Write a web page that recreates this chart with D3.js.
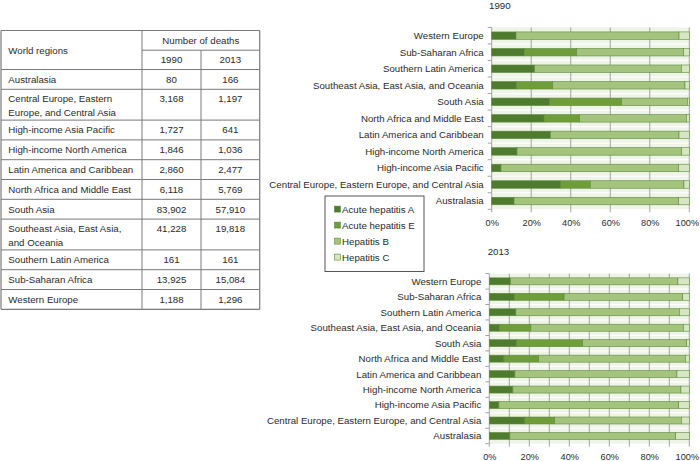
<!DOCTYPE html>
<html>
<head>
<meta charset="utf-8">
<script src="https://cdn.jsdelivr.net/npm/d3@7"></script>
<style>
html,body{margin:0;padding:0;background:#fff;}
svg{display:block;font-family:"Liberation Sans",Arial,Helvetica,sans-serif;}
</style>
</head>
<body>
<svg id="chart" width="700" height="461"></svg>
<script>
// ---------- Table data ----------
const tableRegions = [
  ["Australasia"],
  ["Central Europe, Eastern", "Europe, and Central Asia"],
  ["High-income Asia Pacific"],
  ["High-income North America"],
  ["Latin America and Caribbean"],
  ["North Africa and Middle East"],
  ["South Asia"],
  ["Southeast Asia, East Asia,", "and Oceania"],
  ["Southern Latin America"],
  ["Sub-Saharan Africa"],
  ["Western Europe"]
];
const deaths1990 = ["80","3,168","1,727","1,846","2,860","6,118","83,902","41,228","161","13,925","1,188"];
const deaths2013 = ["166","1,197","641","1,036","2,477","5,769","57,910","19,818","161","15,084","1,296"];

// ---------- Chart data (percent of deaths) ----------
const regions = [
  "Western Europe",
  "Sub-Saharan Africa",
  "Southern Latin America",
  "Southeast Asia, East Asia, and Oceania",
  "South Asia",
  "North Africa and Middle East",
  "Latin America and Caribbean",
  "High-income North America",
  "High-income Asia Pacific",
  "Central Europe, Eastern Europe, and Central Asia",
  "Australasia"
];
const seriesNames = ["Acute hepatitis A", "Acute hepatitis E", "Hepatitis B", "Hepatitis C"];
const hepA1990 = [12.3, 16.5, 21.7, 12.6, 29.3, 26.5, 29.7, 12.8, 4.7, 34.9, 11.3];
const hepE1990 = [0, 26.5, 0, 18.3, 36.5, 18.0, 0, 0, 0, 15.0, 0];
const hepB1990 = [82.5, 54.1, 74.3, 66.9, 33.2, 54.0, 65.1, 83.3, 89.9, 47.4, 83.3];
const hepC1990 = [5.2, 2.9, 4.0, 2.2, 1.0, 1.5, 5.2, 3.9, 5.4, 2.7, 5.4];
const hepA2013 = [10.6, 12.6, 13.3, 5.0, 13.5, 7.3, 12.8, 11.8, 4.8, 17.8, 10.3];
const hepE2013 = [0, 24.8, 0, 15.8, 33.2, 17.4, 0, 0, 0, 14.9, 0];
const hepB2013 = [83.7, 59.3, 81.7, 76.2, 52.0, 73.3, 81.0, 84.0, 89.9, 63.3, 82.9];
const hepC2013 = [5.7, 3.3, 5.0, 3.0, 1.3, 2.0, 6.2, 4.2, 5.3, 4.0, 6.8];
const xTicks = [0, 20, 40, 60, 80, 100];

const colors = ["#4f7b2e", "#6f9d3a", "#a4c47d", "#d6e5c4"];
const strokeCol = "#5e8a3c";
const textCol = "#2a2a2a";
const FS = 9.7;

const svg = d3.select("#chart");

// ---------- Table ----------
(function drawTable(){
  const g = svg.append("g");
  const x0 = 1, x1 = 142, x2 = 201, x3 = 259.7;
  const top = 30.5, mid = 50.2, hdrBottom = 69.5;
  const single = 19.8, dbl = 30.8;
  const rowTops = [];
  let y = hdrBottom;
  tableRegions.forEach(r => { rowTops.push(y); y += (r.length > 1 ? dbl : single); });
  const bottom = y;
  const lc = "#7a7a7a";
  const line = (xa, ya, xb, yb, w) => g.append("line").attr("x1", xa).attr("y1", ya).attr("x2", xb).attr("y2", yb)
    .attr("stroke", lc).attr("stroke-width", w || 1);
  line(x0, top, x3, top, 1.2);
  line(x1, mid, x3, mid);
  line(x0, hdrBottom, x3, hdrBottom);
  rowTops.slice(1).forEach(t => line(x0, t, x3, t));
  line(x0, bottom, x3, bottom, 1.2);
  line(x0, top, x0, bottom, 1.2);
  line(x1, top, x1, bottom);
  line(x2, mid, x2, bottom);
  line(x3, top, x3, bottom, 1.2);

  const txt = (s, x, yy, anchor) => g.append("text").attr("x", x).attr("y", yy)
    .attr("dy", "0.35em").attr("text-anchor", anchor || "start")
    .attr("font-size", FS).attr("fill", textCol).text(s);
  txt("World regions", 8.3, (top + hdrBottom) / 2 + 1);
  txt("Number of deaths", (x1 + x3) / 2, (top + mid) / 2, "middle");
  txt("1990", (x1 + x2) / 2, (mid + hdrBottom) / 2, "middle");
  txt("2013", (x2 + x3) / 2, (mid + hdrBottom) / 2, "middle");
  tableRegions.forEach((r, i) => {
    const t = rowTops[i];
    if (r.length > 1) {
      txt(r[0], 8.3, t + 9.8);
      txt(r[1], 8.3, t + 23.2);
      txt(deaths1990[i], (x1 + x2) / 2, t + 9.8, "middle");
      txt(deaths2013[i], (x2 + x3) / 2, t + 9.8, "middle");
    } else {
      txt(r[0], 8.3, t + single / 2);
      txt(deaths1990[i], (x1 + x2) / 2, t + single / 2, "middle");
      txt(deaths2013[i], (x2 + x3) / 2, t + single / 2, "middle");
    }
  });
})();

// ---------- Bar charts ----------
function drawChart(opts) {
  const { title, titleX, titleY, left, right, top, bottom, barH, gridStep, labelY, vals } = opts;
  const g = svg.append("g");
  const x = d3.scaleLinear().domain([0, 100]).range([left, right]);
  const y = d3.scaleBand().domain(regions).range([top, bottom]);

  g.append("text").attr("x", titleX).attr("y", titleY).attr("dy", "0.35em")
    .attr("font-size", FS).attr("fill", textCol).text(title);

  g.append("rect").attr("x", left).attr("y", top).attr("width", right - left).attr("height", bottom - top)
    .attr("fill", "#eff4e8");
  const bounds = regions.map(r => y(r)).concat([bottom]);
  g.selectAll(".hsep").data(bounds.slice(1, -1)).join("line")
    .attr("x1", left).attr("x2", right).attr("y1", d => d).attr("y2", d => d)
    .attr("stroke", "#ffffff").attr("stroke-width", 1.2);
  const grid = d3.range(0, 100 + 0.001, gridStep);
  g.selectAll(".vgrid").data(grid).join("line")
    .attr("x1", d => x(d)).attr("x2", d => x(d)).attr("y1", top).attr("y2", bottom + 3)
    .attr("stroke", "#a3a3a3").attr("stroke-width", 1);
  g.selectAll(".ltick").data(bounds).join("line")
    .attr("x1", left - 4).attr("x2", left).attr("y1", d => d).attr("y2", d => d)
    .attr("stroke", "#a3a3a3").attr("stroke-width", 1);

  const rows = regions.map((r, i) => ({ region: r, v: vals.map(s => s[i]) }));
  rows.forEach(row => {
    let acc = 0;
    row.v.forEach((v, k) => {
      if (v > 0) {
        g.append("rect")
          .attr("x", x(acc)).attr("width", x(acc + v) - x(acc))
          .attr("y", y(row.region) + (y.bandwidth() - barH) / 2).attr("height", barH)
          .attr("fill", colors[k]).attr("stroke", strokeCol).attr("stroke-width", 0.6);
      }
      acc += v;
    });
  });

  g.selectAll(".ylab").data(regions).join("text")
    .attr("x", left - 8).attr("y", d => y(d) + y.bandwidth() / 2).attr("dy", "0.35em")
    .attr("text-anchor", "end").attr("font-size", FS).attr("fill", textCol).text(d => d);

  const xAxis = d3.axisBottom(x).tickValues(xTicks).tickFormat(d => d + "%").tickSize(0).tickPadding(0);
  const ax = g.append("g").attr("transform", `translate(0,${labelY})`).call(xAxis);
  ax.select(".domain").remove();
  ax.selectAll("text").attr("font-size", 9.2).attr("fill", textCol)
    .attr("font-family", '"Liberation Sans",Arial,Helvetica,sans-serif').attr("y", 0).attr("dy", "0.35em")
    .attr("dx", d => d === 100 ? -2.5 : 0);
}

drawChart({
  title: "1990", titleX: 489, titleY: 6,
  left: 491.7, right: 689.3, top: 27.4, bottom: 209.3, barH: 7.5, gridStep: 20, labelY: 222.5,
  vals: [hepA1990, hepE1990, hepB1990, hepC1990]
});
drawChart({
  title: "2013", titleX: 487.7, titleY: 251.7,
  left: 489.3, right: 689.3, top: 273.6, bottom: 443.7, barH: 7, gridStep: 10, labelY: 457,
  vals: [hepA2013, hepE2013, hepB2013, hepC2013]
});

// ---------- Legend ----------
(function drawLegend(){
  const g = svg.append("g");
  const lx = 325, ly = 196, lw = 99, lh = 75.5;
  g.append("rect").attr("x", lx).attr("y", ly).attr("width", lw).attr("height", lh)
    .attr("fill", "#ffffff").attr("stroke", "#555").attr("stroke-width", 1);
  seriesNames.forEach((s, i) => {
    const cy = 209.3 + i * 16;
    g.append("rect").attr("x", 334.5).attr("y", cy - 3.2).attr("width", 6).attr("height", 6)
      .attr("fill", colors[i]).attr("stroke", strokeCol).attr("stroke-width", 0.6);
    g.append("text").attr("x", 342).attr("y", cy).attr("dy", "0.35em")
      .attr("font-size", FS).attr("fill", textCol).text(s);
  });
})();
</script>
</body>
</html>
